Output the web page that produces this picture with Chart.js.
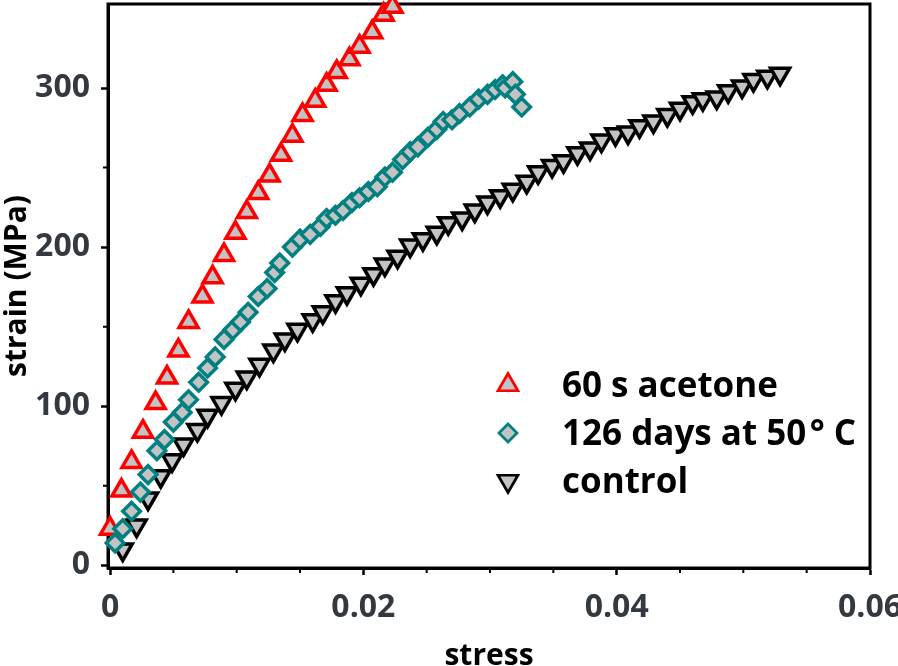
<!DOCTYPE html>
<html>
<head>
<meta charset="utf-8">
<title>strain vs stress</title>
<script src="https://cdn.jsdelivr.net/npm/chart.js@4.4.0/dist/chart.umd.min.js"></script>
<style>
  html, body { margin: 0; padding: 0; background: #fff; }
  #wrap { width: 898px; height: 666px; }
</style>
</head>
<body>
<div id="wrap"><canvas id="strainChart" width="898" height="666"></canvas></div>
<script>
// values (stress, strain in MPa)
const acetoneStress = [0.0000, 0.0009, 0.0017, 0.0026, 0.0036, 0.0045, 0.0054, 0.0062, 0.0073, 0.0081,
  0.0090, 0.0099, 0.0108, 0.0117, 0.0126, 0.0135, 0.0144, 0.0152, 0.0162, 0.0171,
  0.0179, 0.0189, 0.0197, 0.0207, 0.0216, 0.0223];
const acetoneStrain = [23, 47, 65, 84, 102, 118, 135, 153, 169, 181,
  195, 209, 222, 234, 245, 258, 270, 283, 292, 302,
  310, 318, 326, 335, 346, 351];

const agedStress = [0.0004, 0.0010, 0.0017, 0.0024, 0.0030, 0.0037, 0.0043, 0.0050, 0.0057, 0.0062,
  0.0070, 0.0077, 0.0083, 0.0090, 0.0097, 0.0103, 0.0109, 0.0117, 0.0124, 0.0130,
  0.0134, 0.0144, 0.0150, 0.0158, 0.0166, 0.0171, 0.0178, 0.0184, 0.0191, 0.0197,
  0.0204, 0.0211, 0.0217, 0.0223, 0.0231, 0.0237, 0.0243, 0.0251, 0.0258, 0.0263,
  0.0270, 0.0276, 0.0284, 0.0291, 0.0298, 0.0304, 0.0310, 0.0312, 0.0318, 0.0320, 0.0325];
const agedStrain = [14, 23, 34, 46, 57, 72, 79, 90, 96, 104,
  115, 124, 131, 142, 148, 153, 159, 169, 174, 184,
  190, 200, 205, 208, 213, 218, 220, 223, 228, 231,
  235, 238, 244, 247, 255, 260, 263, 269, 274, 279,
  280, 284, 288, 293, 296, 299, 302, 300, 304, 296, 288];

const controlStress = [0.0010, 0.0021, 0.0030, 0.0040, 0.0049, 0.0058, 0.0069, 0.0077, 0.0088, 0.0099,
  0.0108, 0.0118, 0.0129, 0.0138, 0.0148, 0.0160, 0.0168, 0.0178, 0.0187, 0.0198,
  0.0208, 0.0217, 0.0227, 0.0237, 0.0247, 0.0258, 0.0267, 0.0278, 0.0288, 0.0298,
  0.0308, 0.0318, 0.0329, 0.0338, 0.0349, 0.0358, 0.0369, 0.0379, 0.0388, 0.0399,
  0.0409, 0.0418, 0.0429, 0.0440, 0.0450, 0.0460, 0.0468, 0.0479, 0.0488, 0.0499,
  0.0508, 0.0519, 0.0529];
const controlStrain = [10, 25, 42, 56, 66, 76, 85, 94, 102, 111,
  118, 126, 135, 142, 148, 154, 159, 166, 171, 177,
  183, 189, 194, 201, 205, 209, 215, 218, 223, 228,
  232, 236, 241, 247, 251, 254, 259, 262, 267, 271,
  272, 276, 279, 283, 287, 291, 293, 294, 298, 301,
  305, 307, 309];

const seriesLabels = ["60 s acetone", "126 days at 50\u200a\u00b0 C", "control"];

const xTickValues = [0, 0.02, 0.04, 0.06];
const xTickLabels = ["0", "0.02", "0.04", "0.06"];
const xMinorTicks = [0.005, 0.01, 0.015, 0.025, 0.03, 0.035, 0.045, 0.05, 0.055];
const yTickValues = [0, 100, 200, 300];
const yTickLabels = ["0", "100", "200", "300"];
const yMinorTicks = [50, 150, 250];

const FONT = '"Open Sans", "Noto Sans", sans-serif';
const FILL = "#c3c3c3";
const TICK_COLOR = "#33393f";

function toPoints(xs, ys) {
  return xs.map((x, i) => ({ x: x, y: ys[i] }));
}

// black box round the plot area
const framePlugin = {
  id: "frame",
  beforeDatasetsDraw(chart) {
    const a = chart.chartArea;
    const ctx = chart.ctx;
    ctx.save();
    ctx.strokeStyle = "#000";
    ctx.lineWidth = 3;
    ctx.strokeRect(a.left, a.top, a.right - a.left, a.bottom - a.top);
    ctx.restore();
  }
};

// short unlabeled ticks between the major ones
const minorTickPlugin = {
  id: "minorTicks",
  afterDraw(chart) {
    const a = chart.chartArea;
    const ctx = chart.ctx;
    ctx.save();
    ctx.strokeStyle = "#000";
    ctx.lineWidth = 2;
    ctx.beginPath();
    xMinorTicks.forEach(v => {
      const px = chart.scales.x.getPixelForValue(v);
      ctx.moveTo(px, a.bottom);
      ctx.lineTo(px, a.bottom + 5);
    });
    yMinorTicks.forEach(v => {
      const py = chart.scales.y.getPixelForValue(v);
      ctx.moveTo(a.left - 5, py);
      ctx.lineTo(a.left, py);
    });
    ctx.stroke();
    ctx.restore();
  }
};

// legend inside the plot, lower right
const legendPlugin = {
  id: "insideLegend",
  afterDraw(chart) {
    const a = chart.chartArea;
    const ctx = chart.ctx;
    const markerX = a.left + 400;
    const textX = a.left + 454;
    ctx.save();
    chart.data.datasets.forEach((ds, i) => {
      const baseY = a.top + 393 + i * 48;
      ctx.fillStyle = ds.pointBackgroundColor;
      ctx.strokeStyle = ds.pointBorderColor;
      ctx.lineWidth = 2.7;
      Chart.helpers.drawPoint(ctx, {
        pointStyle: ds.pointStyle,
        rotation: ds.pointRotation || 0,
        radius: ds.pointStyle === "rectRot" ? 9 : 11.5,
        borderWidth: 2.7
      }, markerX, baseY - 12);
      ctx.fillStyle = "#000";
      ctx.font = "bold 35px " + FONT;
      ctx.textAlign = "left";
      ctx.textBaseline = "alphabetic";
      ctx.fillText(ds.label, textX, baseY);
    });
    ctx.restore();
  }
};

const canvas = document.getElementById("strainChart");

const chart = new Chart(canvas, {
  type: "scatter",
  data: {
    datasets: [
      {
        label: seriesLabels[0],
        data: toPoints(acetoneStress, acetoneStrain),
        pointStyle: "triangle",
        pointRadius: 11,
        pointBorderWidth: 3.5,
        pointBorderColor: "#ff0000",
        pointBackgroundColor: FILL,
        order: 2,
        clip: false
      },
      {
        label: seriesLabels[1],
        data: toPoints(agedStress, agedStrain),
        pointStyle: "rectRot",
        pointRadius: 8.8,
        pointBorderWidth: 3.5,
        pointBorderColor: "#008080",
        pointBackgroundColor: FILL,
        order: 0,
        clip: false
      },
      {
        label: seriesLabels[2],
        data: toPoints(controlStress, controlStrain),
        pointStyle: "triangle",
        pointRotation: 180,
        pointRadius: 11,
        pointBorderWidth: 3.5,
        pointBorderColor: "#000000",
        pointBackgroundColor: FILL,
        order: 1,
        clip: false
      }
    ]
  },
  options: {
    responsive: false,
    animation: false,
    layout: { autoPadding: false, padding: { top: 4, right: 28, bottom: 0, left: 0 } },
    plugins: {
      legend: { display: false },
      tooltip: { enabled: false }
    },
    scales: {
      x: {
        type: "linear",
        position: "bottom",
        min: -0.00016,
        max: 0.06,
        afterBuildTicks: scale => {
          scale.ticks = xTickValues.map(v => ({ value: v }));
        },
        afterFit: scale => {
          scale.height = 98;
          scale.paddingLeft = 0;
          scale.paddingRight = 0;
        },
        ticks: {
          callback: value => xTickLabels[xTickValues.indexOf(value)],
          autoSkip: false,
          maxRotation: 0,
          padding: 14,
          color: TICK_COLOR,
          font: { family: FONT, size: 32, weight: "bold" }
        },
        grid: {
          drawOnChartArea: false,
          drawTicks: true,
          tickLength: 7,
          tickWidth: 2.5,
          tickColor: "#000"
        },
        border: { display: true, color: "#000", width: 3 },
        title: {
          display: true,
          text: "stress",
          color: "#000",
          font: { family: FONT, size: 30, weight: "bold", lineHeight: 0.6 },
          padding: { top: 0, bottom: 0.5 }
        }
      },
      y: {
        type: "linear",
        min: -1.7,
        max: 352.8,
        afterBuildTicks: scale => {
          scale.ticks = yTickValues.map(v => ({ value: v }));
        },
        afterFit: scale => {
          scale.width = 108;
          scale.paddingTop = 0;
          scale.paddingBottom = 0;
        },
        ticks: {
          callback: value => yTickLabels[yTickValues.indexOf(value)],
          autoSkip: false,
          padding: 11,
          color: TICK_COLOR,
          font: { family: FONT, size: 32, weight: "bold" }
        },
        grid: {
          drawOnChartArea: false,
          drawTicks: true,
          tickLength: 7,
          tickWidth: 2.5,
          tickColor: "#000"
        },
        border: { display: true, color: "#000", width: 3 },
        title: {
          display: true,
          text: "strain (MPa)",
          color: "#000",
          font: { family: FONT, size: 30, weight: "bold", lineHeight: 1.15 },
          padding: 0
        }
      }
    }
  },
  plugins: [framePlugin, minorTickPlugin, legendPlugin]
});
</script>
</body>
</html>
